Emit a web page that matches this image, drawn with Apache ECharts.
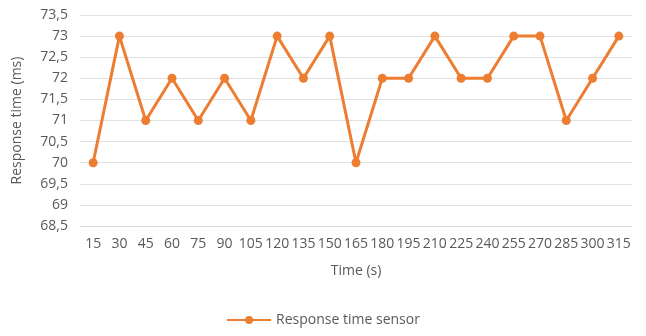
<!DOCTYPE html>
<html><head><meta charset="utf-8">
<script src="https://cdn.jsdelivr.net/npm/echarts@6/dist/echarts.min.js"></script>
<style>html,body{margin:0;padding:0;background:#fff}#c{width:646px;height:336px}</style>
</head><body><div id="c"></div>
<script>
const categories = ['15','30','45','60','75','90','105','120','135','150','165','180','195','210','225','240','255','270','285','300','315'];
const responseTime = [70,73,71,72,71,72,71,73,72,73,70,72,72,73,72,72,73,73,71,72,73];
const seriesName = 'Response time sensor';
const chart = echarts.init(document.getElementById('c'));
const txt = '#595959';
const ff = '"Open Sans", "Noto Sans", sans-serif';
chart.setOption({
  animation:false,
  textStyle:{fontFamily:ff},
  grid:{left:80,right:14,top:15,bottom:110},
  legend:{bottom:4,left:'center',itemWidth:44,itemHeight:10,itemGap:2,
    textStyle:{color:txt,fontSize:14,fontFamily:ff},data:[seriesName]},
  xAxis:{type:'category',data:categories,boundaryGap:true,
    name:'Time (s)',nameLocation:'middle',nameGap:38,
    nameTextStyle:{color:txt,fontSize:14,fontFamily:ff},
    axisLine:{lineStyle:{color:'#d9d9d9'}},axisTick:{show:false},
    axisLabel:{interval:0,color:txt,fontSize:14,margin:11,fontFamily:ff}},
  yAxis:{type:'value',min:68.5,max:73.5,interval:0.5,
    name:'Response time (ms)',nameLocation:'middle',nameGap:56,nameRotate:90,
    nameTextStyle:{color:txt,fontSize:14,fontFamily:ff},
    axisLine:{show:false},axisTick:{show:false},
    splitLine:{lineStyle:{color:'#e0e0e0'}},
    axisLabel:{color:txt,fontSize:14,margin:12,fontFamily:ff,formatter:v=>String(v).replace('.',',')}},
  series:[{name:seriesName,type:'line',data:responseTime,
    lineStyle:{color:'#ED7D31',width:3},itemStyle:{color:'#ED7D31'},
    symbol:'circle',symbolSize:9}]
});
</script></body></html>
